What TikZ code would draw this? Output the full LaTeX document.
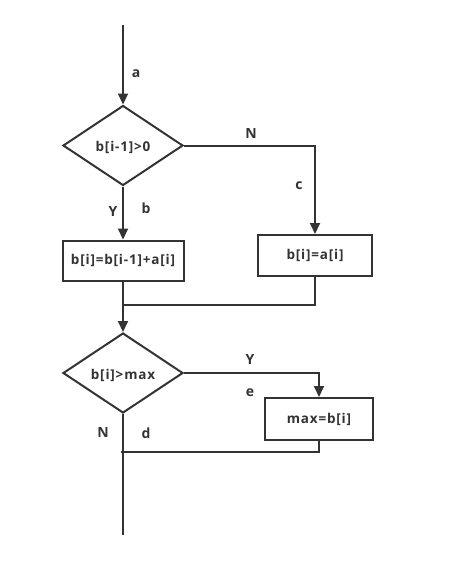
\documentclass[tikz,border=0pt]{standalone}
\usepackage{fontspec}
\setmainfont[LetterSpace=6]{Open Sans}
\usetikzlibrary{arrows.meta,shapes.geometric}
\definecolor{ink}{HTML}{333333}
\begin{document}
\begin{tikzpicture}[x=1pt,y=-1pt,
  line width=2pt, draw=ink,
  every node/.style={text=ink, font=\bfseries\fontsize{13.5}{15}\selectfont},
  proc/.style={draw=ink, rectangle, inner sep=0pt, line width=2pt},
  dec/.style={draw=ink, diamond, inner sep=0pt, line width=2pt, minimum width=120pt, minimum height=80pt, aspect=1.5},
  lbl/.style={font=\bfseries\fontsize{14}{16}\selectfont},
  arr/.style={-{Triangle[length=11pt,width=10pt]}, draw=ink, line width=2pt}]
\useasboundingbox (0,0) rectangle (449,563);
\coordinate (start) at (123,25);
\node[dec] (d1) at (123,145.5) {};
\node at (123,147) {b[i-1]>0};
\node[proc, minimum width=121pt, minimum height=40pt] (p1) at (123,260.5) {b[i]=b[i-1]+a[i]};
\node[proc, minimum width=114pt, minimum height=41pt] (p2) at (315,255.5) {b[i]=a[i]};
\coordinate (m1) at (123,304.5);
\node[dec] (d2) at (123,373) {};
\node at (123,375) {b[i]>max};
\node[proc, minimum width=108pt, minimum height=42pt] (p3) at (319,419) {max=b[i]};
\coordinate (m2) at (121,452);
\coordinate (end) at (123,535);

\draw[arr] (start) -- (d1.north);
\draw[arr] (d1.east) -| (p2.north);
\draw[arr] (d1.south) -- (p1.north);
\draw (p1.south) -- (m1);
\draw (p2.south) |- (m1);
\draw[arr] (m1) -- (d2.north);
\draw[arr] (d2.east) -| (p3.north);
\draw (p3.south) |- (m2);
\draw (d2.south) -- (end);

\node[lbl] (la) at (136,74) {a};
\node[lbl] (lN1) at (251,133) {N};
\node[lbl] (lc) at (299,186) {c};
\node[lbl] (lY1) at (113,211) {Y};
\node[lbl] (lb) at (146,208) {b};
\node[lbl] (lY2) at (250,359) {Y};
\node[lbl] (le) at (250,393) {e};
\node[lbl] (lN2) at (103,432) {N};
\node[lbl] (ld) at (146,433) {d};
\end{tikzpicture}
\end{document}
